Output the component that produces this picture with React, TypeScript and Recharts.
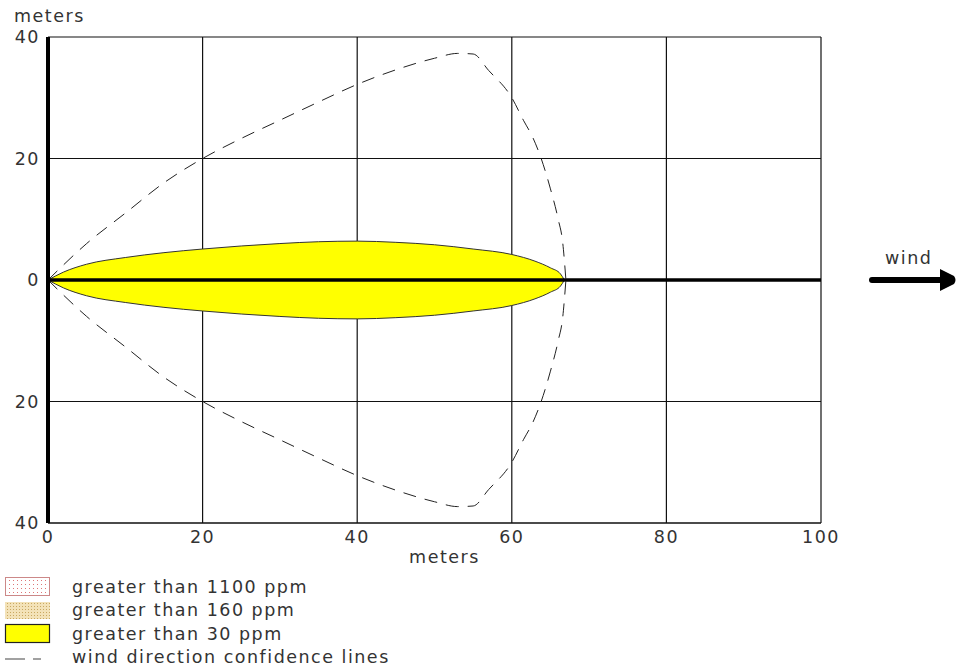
import React from 'react';
import {
  ComposedChart,
  Area,
  Line,
  XAxis,
  YAxis,
  CartesianGrid,
  ReferenceLine,
} from 'recharts';

// Plume envelope (>30 ppm), symmetric about the wind axis
const plumeX = [0, 2, 5, 10, 15, 20, 25, 30, 35, 40, 45, 50, 55, 60, 63, 65, 66.3, 66.8];
const plumeHalfWidth = [0, 1.3, 2.6, 3.7, 4.5, 5.1, 5.6, 6.0, 6.3, 6.4, 6.2, 5.8, 5.1, 4.2, 3.1, 2.0, 1.0, 0];

// Wind direction confidence line (upper half; lower is mirrored)
const confX = [0, 5, 10, 15, 20, 25, 30, 35, 40, 45, 50, 53, 55, 57, 60, 61.5, 62.7, 63.8, 65, 66, 66.6, 67];
const confY = [0, 6, 11, 16, 20, 23.3, 26.3, 29.3, 32.2, 34.6, 36.5, 37.3, 37.2, 34.5, 30, 26.3, 23.5, 20, 15, 10, 6, 0];

const xTicks = [0, 20, 40, 60, 80, 100];
const yTicks = [-40, -20, 0, 20, 40];

const legendItems = [
  { label: 'greater than 1100 ppm', kind: 'pink' },
  { label: 'greater than 160 ppm', kind: 'tan' },
  { label: 'greater than 30 ppm', kind: 'yellow' },
  { label: 'wind direction confidence lines', kind: 'dash' },
];

const plumeData = plumeX.map((x, i) => ({ x, range: [-plumeHalfWidth[i], plumeHalfWidth[i]] }));
const upperData = confX.map((x, i) => ({ x, y: confY[i] }));
const lowerData = confX.map((x, i) => ({ x, y: -confY[i] }));

const FONT = '"DejaVu Sans", Verdana, sans-serif';
const TEXT = '#333';
const FS = 17.5;
const LS = 1.5;

const tickStyle = { fill: TEXT, fontSize: FS, fontFamily: FONT, letterSpacing: LS };

const LegendBlock = () => (
  <div style={{ position: 'absolute', left: 0, top: 575, fontFamily: FONT, fontSize: FS, letterSpacing: LS, color: TEXT }}>
    <svg width={0} height={0} style={{ position: 'absolute' }}>
      <defs>
        <pattern id="dotsPink" width="4" height="4" patternUnits="userSpaceOnUse">
          <rect width="4" height="4" fill="#fff" />
          <rect x="1" y="1" width="1" height="1" fill="#d77" />
        </pattern>
        <pattern id="dotsTan" width="3" height="3" patternUnits="userSpaceOnUse">
          <rect width="3" height="3" fill="#f3e2b8" />
          <rect x="1" y="1" width="1" height="1" fill="#c9a860" />
        </pattern>
      </defs>
    </svg>
    {legendItems.map((it, i) => (
      <div key={i} style={{ display: 'flex', alignItems: 'center', height: 23.5, whiteSpace: 'nowrap' }}>
        <svg width={60} height={23} style={{ flex: 'none' }}>
          {it.kind === 'pink' && (
            <rect x={5.5} y={2.5} width={44} height={18} fill="url(#dotsPink)" stroke="#c88" strokeWidth={1} />
          )}
          {it.kind === 'tan' && <rect x={5} y={3} width={45} height={17} fill="url(#dotsTan)" />}
          {it.kind === 'yellow' && (
            <rect x={5.5} y={2.5} width={44} height={18} fill="#ffff00" stroke="#222" strokeWidth={1.2} />
          )}
          {it.kind === 'dash' && (
            <line x1={5} y1={13} x2={50} y2={13} stroke="#444" strokeWidth={1.2} strokeDasharray="20 8 8 20" />
          )}
        </svg>
        <span style={{ marginLeft: 12, lineHeight: '20px' }}>{it.label}</span>
      </div>
    ))}
  </div>
);

export default function App() {
  return (
    <div style={{ position: 'absolute', left: 0, top: 0, width: 956, height: 669, background: '#fff', fontFamily: FONT, overflow: 'hidden' }}>
      <ComposedChart
        width={956}
        height={669}
        margin={{ top: 37, right: 135, left: 0, bottom: 106 }}
      >
        <CartesianGrid stroke="#111" strokeWidth={1.2} />
        <XAxis
          type="number"
          dataKey="x"
          domain={[0, 100]}
          ticks={xTicks}
          allowDataOverflow
          axisLine={{ stroke: '#111', strokeWidth: 1.2 }}
          tickLine={false}
          height={40}
          tick={tickStyle}
          label={{ value: 'meters', position: 'insideBottom', offset: 0, dx: 10, fill: TEXT, fontSize: FS, fontFamily: FONT, letterSpacing: LS }}
        />
        <YAxis
          type="number"
          domain={[-40, 40]}
          ticks={yTicks}
          allowDataOverflow
          width={48}
          axisLine={{ stroke: '#000', strokeWidth: 4 }}
          tickLine={false}
          tickFormatter={(v: number) => String(Math.abs(v))}
          tick={tickStyle}
        />
        <Area
          data={plumeData}
          dataKey="range"
          type="monotone"
          fill="#ffff00"
          fillOpacity={1}
          stroke="#333"
          strokeWidth={1}
          isAnimationActive={false}
          legendType="none"
        />
        <Line
          data={upperData}
          dataKey="y"
          type="monotone"
          stroke="#222"
          strokeWidth={1}
          strokeDasharray="13 9"
          dot={false}
          isAnimationActive={false}
          legendType="none"
        />
        <Line
          data={lowerData}
          dataKey="y"
          type="monotone"
          stroke="#222"
          strokeWidth={1}
          strokeDasharray="13 9"
          dot={false}
          isAnimationActive={false}
          legendType="none"
        />
        <ReferenceLine y={0} stroke="#000" strokeWidth={3.5} />
      </ComposedChart>
      <LegendBlock />
      <div style={{ position: 'absolute', left: 14, top: 6, fontSize: FS, letterSpacing: LS, color: TEXT, fontFamily: FONT }}>meters</div>
      <div style={{ position: 'absolute', left: 885, top: 248, fontSize: FS, letterSpacing: LS, color: TEXT, fontFamily: FONT }}>wind</div>
      <svg style={{ position: 'absolute', left: 860, top: 265 }} width={96} height={30}>
        <line x1={12} y1={15} x2={84} y2={15} stroke="#000" strokeWidth={6} strokeLinecap="round" />
        <path d="M80,4 L94,11 Q97,15 94,19 L80,26 Z" fill="#000" />
      </svg>
    </div>
  );
}
